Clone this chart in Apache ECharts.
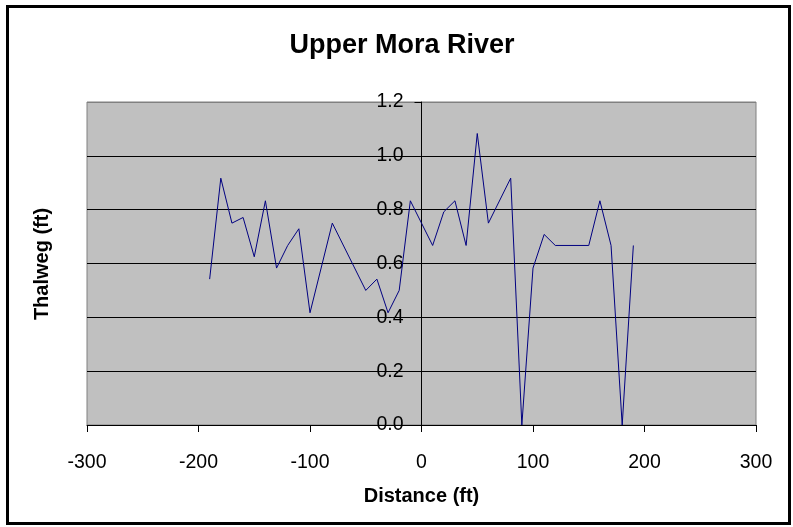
<!DOCTYPE html>
<html>
<head>
<meta charset="utf-8">
<script src="https://cdn.jsdelivr.net/npm/echarts@6/dist/echarts.min.js"></script>
<style>
  html, body { margin: 0; padding: 0; background: #fff; }
  #thalweg-chart { width: 793px; height: 527px; }
</style>
</head>
<body>
<div id="thalweg-chart"></div>
<script>
// distance along the reach (ft) and thalweg depth (ft)
var distance = [-190, -180, -170, -160, -150, -140, -130, -120, -110, -100, -80, -50, -40, -30, -20, -10,
  10, 20, 30, 40, 50, 60, 80, 90, 100, 110, 120, 150, 160, 170, 180, 190]
var thalweg = [0.542, 0.917, 0.75, 0.771, 0.625, 0.833, 0.583, 0.667, 0.729, 0.417, 0.75, 0.5, 0.542, 0.417, 0.5, 0.833,
  0.667, 0.792, 0.833, 0.667, 1.083, 0.75, 0.917, 0, 0.583, 0.708, 0.667, 0.667, 0.833, 0.667, 0, 0.667]
var xTicks = [-300, 300, 100]
var yTicks = [0, 1.2, 0.2]

var font = 'Liberation Sans, Arial, sans-serif'
var gridLeft = 87
var gridRight = 37
var gridWidth = 793 - gridLeft - gridRight
// the value axis crosses at distance 0, so shift it in from the left edge
var yAxisOffset = -gridWidth * (0 - xTicks[0]) / (xTicks[1] - xTicks[0])

var myChart = echarts.init(document.getElementById('thalweg-chart'))
var option = {
  animation: false,
  backgroundColor: '#fff',
  grid: {
    left: gridLeft,
    right: gridRight,
    top: 102,
    bottom: 102,
    show: true,
    backgroundColor: '#C0C0C0',
    borderColor: '#808080',
    borderWidth: 1
  },
  graphic: [
    {
      type: 'rect',
      shape: { x: 7.5, y: 6.5, width: 782, height: 517 },
      style: { fill: 'none', stroke: '#000', lineWidth: 3 },
      z: 100
    },
    {
      type: 'text',
      x: 402,
      y: 46,
      style: {
        text: 'Upper Mora River',
        font: 'bold 27px ' + font,
        fill: '#000',
        textAlign: 'center',
        textVerticalAlign: 'middle'
      }
    },
    {
      type: 'text',
      x: 42,
      y: 264,
      rotation: Math.PI / 2,
      style: {
        text: 'Thalweg (ft)',
        font: 'bold 20px ' + font,
        fill: '#000',
        textAlign: 'center',
        textVerticalAlign: 'middle'
      }
    }
  ],
  xAxis: {
    type: 'value',
    min: xTicks[0],
    max: xTicks[1],
    interval: xTicks[2],
    name: 'Distance (ft)',
    nameLocation: 'middle',
    nameGap: 61,
    nameTextStyle: { fontFamily: font, fontWeight: 'bold', fontSize: 20, color: '#000' },
    axisLine: { show: true, onZero: false, lineStyle: { color: '#000', width: 1 } },
    axisTick: { show: true, length: 7, lineStyle: { color: '#000' } },
    axisLabel: { margin: 28, fontFamily: font, fontSize: 19.5, color: '#000' },
    splitLine: { show: false }
  },
  yAxis: {
    type: 'value',
    position: 'left',
    offset: yAxisOffset,
    min: yTicks[0],
    max: yTicks[1],
    interval: yTicks[2],
    axisLine: { show: true, onZero: false, lineStyle: { color: '#000', width: 1 } },
    axisTick: { show: true, length: 7, lineStyle: { color: '#000' } },
    axisLabel: {
      margin: 18,
      fontFamily: font,
      fontSize: 19.5,
      color: '#000',
      padding: [3, 0, 0, 0],
      formatter: function (v) { return v.toFixed(1) }
    },
    splitLine: {
      show: true,
      lineStyle: { color: ['#000', '#000', '#000', '#000', '#000', '#000', '#808080'], width: 1 }
    }
  },
  series: [
    {
      type: 'line',
      data: distance.map(function (d, i) { return [d, thalweg[i]] }),
      showSymbol: false,
      lineStyle: { color: '#000080', width: 1 },
      itemStyle: { color: '#000080' }
    }
  ]
}
myChart.setOption(option)
</script>
</body>
</html>
